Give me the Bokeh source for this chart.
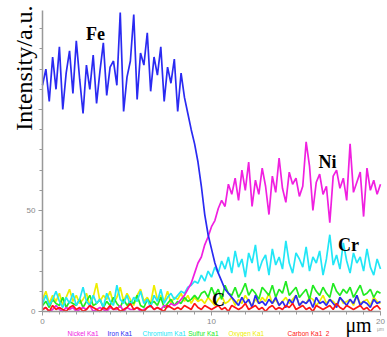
import math
from bokeh.plotting import figure
from bokeh.models import Range1d, FixedTicker, Label
from bokeh.embed import file_html
from bokeh.resources import INLINE

step_um = 0.2
distance_um = [round(i * step_um, 2) for i in range(101)]

iron = [112, 120, 104, 126, 110, 131, 100, 118, 129, 108,
        134, 115, 98, 122, 110, 127, 103, 119, 133, 107,
        121, 124, 112, 148, 99, 116, 124, 147, 105, 128,
        122, 138, 109, 126, 117, 131, 104, 121, 113, 125,
        99, 118,
        106, 98, 90, 83, 74, 62, 48, 38, 31, 24, 19, 15, 11, 9, 7,
        5, 3, 7, 4, 6, 2, 8, 4, 5, 3, 6, 4, 7, 3, 5, 2, 6, 4, 8, 3,
        5, 4, 6, 2, 7, 4, 5, 3, 6, 4, 2, 7, 5, 3, 6, 4, 8, 3, 5, 4,
        2, 6, 4, 5]

nickel = [1, 2, 0, 1, 3, 1, 0, 2, 1, 2, 0, 1, 2, 1, 3, 0, 1, 2, 1, 0,
          2, 1, 1, 3, 0, 2, 1, 1, 2, 0, 1, 2, 3, 1, 2, 1, 3, 2, 4, 3,
          4, 6, 8, 11, 14, 19, 24, 27, 33, 37, 42, 45, 51, 55, 52, 63, 58,
          66, 55, 70, 60, 74, 52, 65, 58, 71, 62,
          48, 67, 59, 76, 61, 54, 69, 63, 66, 57,
          62, 84, 72, 50, 64, 68, 58, 62, 44, 67,
          70, 61, 66, 55, 83, 59, 64, 69, 47, 71,
          60, 65, 58, 63]

chromium = [4, 8, 3, 6, 10, 5, 2, 7, 4, 9, 3, 6, 12, 5, 3, 8, 4, 6, 2, 9,
            5, 3, 13, 6, 4, 8, 3, 7, 5, 10, 4, 6, 2, 8, 5, 11, 4, 7, 9, 6,
            8, 10, 9, 12, 13,
            15, 14, 18, 15, 20, 17, 22, 19, 25, 21,
            27, 19, 30, 22, 26, 17, 29, 24, 33, 20, 25, 28, 18, 31, 23, 27,
            21, 35, 24, 19, 29, 26, 22, 32, 20, 27, 24, 30, 18, 26, 38, 23,
            28, 21, 34, 25, 19, 29, 24, 27, 20, 31, 22, 18, 26, 21]

sulfur = [3, 5, 2, 6, 4, 3, 7, 2, 5, 4, 3, 6, 2, 5, 8, 3, 4, 6, 2, 5,
          3, 7, 4, 2, 6, 3, 5, 4, 8, 3, 2, 6, 4, 5, 3, 7, 2, 4, 6, 3,
          5, 4, 7, 5, 6, 8, 6, 9,
          10, 7, 12, 8, 11, 6, 13, 9, 8, 12, 7, 10, 14, 8, 11, 9, 6, 12, 10, 8,
          13, 7, 11, 9, 15, 8, 10, 12, 7, 9, 11, 6, 13, 10, 8, 12, 9, 7, 14, 10,
          8, 11, 9, 12, 7, 10, 13, 8, 9, 11, 7, 10, 9]

oxygen = [6, 10, 4, 8, 5, 9, 3, 7, 11, 5, 8, 4, 6, 9, 3, 7, 14, 5, 8, 6,
          10, 4, 7, 12, 5, 9, 6, 3, 8, 11, 5, 7, 4, 13, 6, 8, 5, 10, 4, 7,
          6, 9, 5, 8, 4, 7, 5, 6,
          4, 7, 5, 3, 6, 8, 4, 5, 7, 3, 6, 4, 8, 5, 3, 6, 4, 7, 5, 9,
          4, 6, 3, 5, 7, 4, 6, 8, 3, 5, 4, 7, 6, 3, 5, 8, 4, 6, 5, 3,
          7, 4, 5, 6, 3, 8, 4, 5, 6, 3, 7, 5, 4]

carbon = [1, 2, 0, 3, 1, 2, 1, 0, 2, 3, 1, 2, 0, 1, 3, 2, 1, 0, 2, 1,
          3, 1, 2, 0, 1, 2, 4, 1, 2, 1, 0, 2, 3, 1, 2, 1, 0, 3, 2, 1,
          2, 1, 3, 2, 1, 4, 2, 1, 3, 2, 1, 2, 3, 1, 2, 0, 3, 2, 1, 2,
          4, 1, 2, 3, 1, 2, 0, 2, 3, 1, 2, 1, 3, 2, 4, 1, 2, 3, 1, 2,
          0, 3, 2, 1, 2, 3, 1, 4, 2, 1, 3, 2, 1, 2, 3, 1, 2, 0, 2, 3, 1]

legend_names = ["Nickel Ka1", "Iron Ka1", "Chromium Ka1", "Sulfur Ka1", "Oxygen Ka1", "Carbon Ka1_2"]
x_ticks = [0, 10, 20]
y_ticks = [0, 50, 100]

c_fe, c_ni, c_cr, c_s, c_o, c_c = "#2a2af2", "#f020e0", "#22e6f6", "#22ea22", "#eeee00", "#ff1414"

p = figure(width=387, height=337, x_range=Range1d(-2.485, 20.414), y_range=Range1d(-12.87, 153.96),
           output_backend="svg", toolbar_location=None, min_border=0)
p.title.visible = False
p.outline_line_color = None
p.xgrid.visible = False
p.ygrid.visible = False

for ax in (p.xaxis[0], p.yaxis[0]):
    ax.fixed_location = 0
    ax.axis_line_color = "#999999"
    ax.major_tick_line_color = "#999999"
    ax.minor_tick_line_color = "#999999"
    ax.major_label_text_color = "#888888"
    ax.major_label_text_font_size = "8px"
    ax.major_tick_out = 4
    ax.major_tick_in = 0
    ax.minor_tick_out = 3
    ax.minor_tick_in = 0
    ax.axis_line_width = 1.5
    ax.major_label_standoff = 3

p.xaxis[0].bounds = (0, 20)
p.yaxis[0].bounds = (0, 149)
p.xaxis[0].ticker = FixedTicker(ticks=x_ticks, minor_ticks=list(range(0, 21)))
p.yaxis[0].ticker = FixedTicker(ticks=y_ticks, minor_ticks=list(range(10, 150, 10)))
p.yaxis[0].major_label_overrides = {100: ""}

lw = 1.7
p.line(distance_um, oxygen, color=c_o, line_width=lw)
p.line(distance_um, sulfur, color=c_s, line_width=lw)
p.line(distance_um, chromium, color=c_cr, line_width=lw)
p.line(distance_um, nickel, color=c_ni, line_width=lw)
p.line(distance_um, iron, color=c_fe, line_width=lw)
p.line(distance_um, carbon, color=c_c, line_width=lw)

serif = "Liberation Serif"
p.add_layout(Label(x=-1.12, y=120.5, text="Intensity/a.u.", angle=math.pi / 2,
                   text_font=serif, text_font_size="24px", text_color="black",
                   text_align="center", text_baseline="middle"))
for txt, xx, yy in [("Fe", 3.14, 137.6), ("Ni", 16.86, 73.8), ("Cr", 18.1, 32.7), ("C", 10.41, 5.9)]:
    p.add_layout(Label(x=xx, y=yy, text=txt, text_font=serif, text_font_size="18px",
                       text_font_style="bold", text_color="black",
                       text_align="center", text_baseline="middle"))
p.add_layout(Label(x=18.7, y=-6.9, text="μm", text_font=serif, text_font_size="20px",
                   text_color="black", text_align="center", text_baseline="middle"))
p.add_layout(Label(x=20.0, y=-8.9, text="μm", text_font="Liberation Sans", text_font_size="5px",
                   text_color="#999999", text_align="center", text_baseline="middle"))

leg_x = [1.48, 3.85, 5.92, 8.62, 11.0, 14.5]
leg_c = [c_ni, c_fe, c_cr, c_s, c_o, c_c]
for name, xx, cc in zip(legend_names, leg_x, leg_c):
    p.add_layout(Label(x=xx, y=-10.9, text=name, text_font="Liberation Sans", text_font_size="6.5px",
                       text_color=cc, text_align="left", text_baseline="middle"))

open("out.html", "w").write(file_html(p, INLINE))
